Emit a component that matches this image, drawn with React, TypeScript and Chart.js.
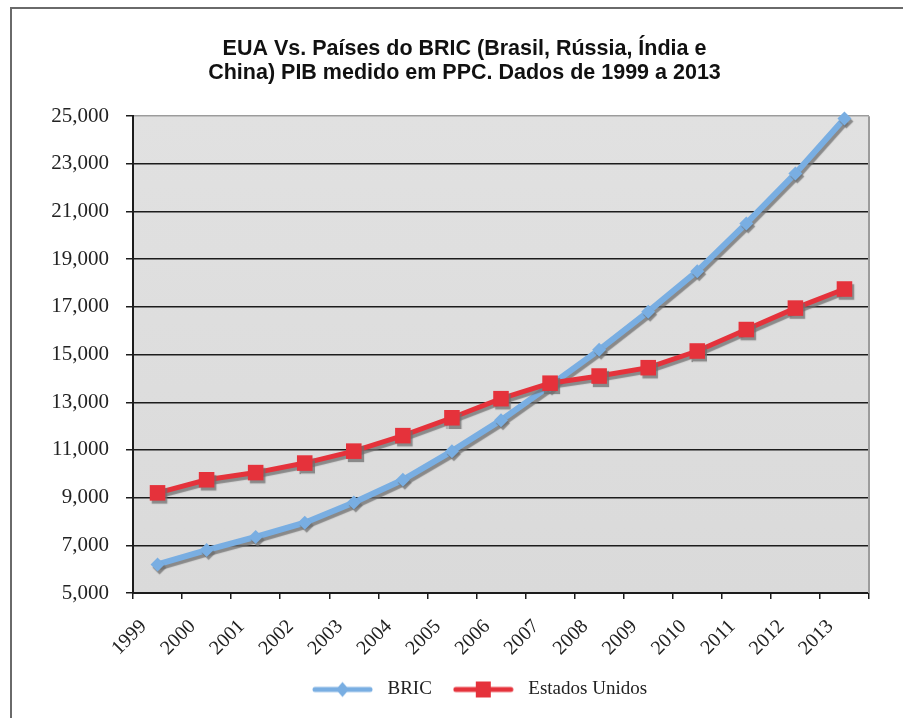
import { useEffect, useRef } from 'react';
import { Chart, registerables } from 'chart.js';

Chart.register(...registerables);

const years = ['1999', '2000', '2001', '2002', '2003', '2004', '2005', '2006', '2007', '2008', '2009', '2010', '2011', '2012', '2013'];
const bricValues = [6200, 6800, 7350, 7950, 8800, 9750, 10950, 12250, 13700, 15200, 16800, 18500, 20500, 22600, 24900];
const usaValues = [9200, 9750, 10050, 10450, 10950, 11600, 12350, 13150, 13800, 14100, 14450, 15150, 16050, 16950, 17750];
const seriesNames = ['BRIC', 'Estados Unidos'];
const titleLines = ['EUA Vs. Países do BRIC (Brasil, Rússia, Índia e', 'China) PIB medido em PPC. Dados de 1999 a 2013'];
const yMin = 5000;
const yMax = 25000;
const yStep = 2000;

const BLUE = '#79aee2';
const RED = '#e5323b';
const SERIF = "'Liberation Serif', 'Times New Roman', serif";
const SANS = "'Liberation Sans', Arial, sans-serif";

function legendIcon(color: string, kind: 'diamond' | 'square') {
  const c = document.createElement('canvas');
  c.width = 66;
  c.height = 20;
  const g = c.getContext('2d')!;
  g.strokeStyle = color;
  g.lineWidth = 5;
  g.lineCap = 'round';
  g.beginPath();
  g.moveTo(3, 10);
  g.lineTo(58, 10);
  g.stroke();
  g.fillStyle = color;
  if (kind === 'diamond') {
    g.beginPath();
    g.moveTo(30.5, 2.5);
    g.lineTo(37, 10);
    g.lineTo(30.5, 17.5);
    g.lineTo(24, 10);
    g.closePath();
    g.fill();
  } else {
    g.fillRect(23, 2, 15, 16);
  }
  return c;
}

const backdrop = {
  id: 'backdrop',
  beforeDraw(chart: any) {
    const { ctx, chartArea } = chart;
    const { left, top, right, bottom } = chartArea;
    const grad = ctx.createLinearGradient(0, top, 0, bottom);
    grad.addColorStop(0, '#e1e1e1');
    grad.addColorStop(1, '#dadada');
    ctx.save();
    ctx.fillStyle = grad;
    ctx.fillRect(left, top, right - left, bottom - top);
    ctx.restore();
  },
  beforeDatasetsDraw(chart: any) {
    const { ctx, chartArea } = chart;
    ctx.save();
    ctx.strokeStyle = '#9c9c9c';
    ctx.lineWidth = 2;
    ctx.beginPath();
    ctx.moveTo(chartArea.right, chartArea.top);
    ctx.lineTo(chartArea.right, chartArea.bottom);
    ctx.stroke();
    ctx.restore();
  },
};

const shadow = {
  id: 'shadow',
  beforeDatasetDraw(chart: any) {
    const ctx = chart.ctx;
    ctx.save();
    ctx.shadowColor = 'rgba(110,110,110,0.75)';
    ctx.shadowOffsetX = 2;
    ctx.shadowOffsetY = 3;
    ctx.shadowBlur = 1;
  },
  afterDatasetDraw(chart: any) {
    chart.ctx.restore();
  },
};

const boxShift = {
  id: 'boxShift',
  afterLayout(chart: any) {
    if (chart.legend) {
      chart.legend.left += 45;
      chart.legend.right += 45;
    }
    if (chart.titleBlock) {
      chart.titleBlock.left += 30;
      chart.titleBlock.right += 30;
    }
  },
};

export default function App() {
  const ref = useRef<HTMLCanvasElement>(null);

  useEffect(() => {
    if (!ref.current) return;
    const icons = [legendIcon(BLUE, 'diamond'), legendIcon(RED, 'square')];
    const chart = new Chart(ref.current, {
      type: 'line',
      data: {
        labels: years,
        datasets: [
          {
            label: seriesNames[0],
            data: bricValues,
            borderColor: BLUE,
            backgroundColor: BLUE,
            borderWidth: 6,
            pointStyle: 'rectRot',
            pointRadius: 7,
            pointBorderWidth: 0,
            tension: 0,
            clip: false,
            order: 2,
          },
          {
            label: seriesNames[1],
            data: usaValues,
            borderColor: RED,
            backgroundColor: RED,
            borderWidth: 5,
            pointStyle: 'rect',
            pointRadius: 11,
            pointBorderWidth: 0,
            tension: 0,
            clip: false,
            order: 1,
          },
        ],
      },
      options: {
        animation: false,
        responsive: true,
        maintainAspectRatio: false,
        events: [],
        layout: { padding: { left: 0, right: 34, top: 0, bottom: 9 } },
        scales: {
          x: {
            offset: true,
            afterFit: (s: any) => {
              s.height = 66;
            },
            grid: {
              drawOnChartArea: false,
              drawTicks: true,
              tickLength: 6,
              offset: true,
              color: '#1c1c1c',
              lineWidth: 1.5,
            },
            border: { color: '#1c1c1c', width: 2 },
            ticks: {
              minRotation: 45,
              maxRotation: 45,
              padding: 16,
              labelOffset: -14,
              autoSkip: false,
              color: '#222',
              font: { family: SERIF, size: 20 },
            },
          },
          y: {
            min: yMin,
            max: yMax,
            afterFit: (s: any) => {
              s.width = 133;
            },
            grid: {
              color: (c: any) => (c.tick && c.tick.value === yMax ? '#9c9c9c' : '#1c1c1c'),
              tickColor: '#1c1c1c',
              lineWidth: 1.5,
              tickLength: 7,
            },
            border: { color: '#1c1c1c', width: 2 },
            ticks: {
              stepSize: yStep,
              padding: 17,
              color: '#222',
              font: { family: SERIF, size: 21 },
              callback: (v: any) => Number(v).toLocaleString('en-US'),
            },
          },
        },
        plugins: {
          tooltip: { enabled: false },
          title: {
            display: true,
            text: titleLines,
            color: '#111',
            font: { family: SANS, size: 21.5, weight: 'bold', lineHeight: 1.12 },
            padding: { top: 37, bottom: 31 },
          },
          legend: {
            position: 'bottom',
            labels: {
              usePointStyle: true,
              pointStyleWidth: 66,
              padding: 21,
              color: '#222',
              font: { family: SERIF, size: 19 },
              sort: (a: any, b: any) => a.datasetIndex - b.datasetIndex,
              generateLabels: (ch: any) => {
                const items = Chart.defaults.plugins.legend.labels.generateLabels(ch);
                return items.map((it: any) => ({ ...it, pointStyle: icons[it.datasetIndex] }));
              },
            },
          },
        },
      },
      plugins: [backdrop, shadow, boxShift],
    } as any);
    return () => chart.destroy();
  }, []);

  return (
    <>
      <div
        style={{
          position: 'fixed',
          left: 10,
          top: 7,
          width: 893,
          height: 711,
          borderLeft: '2px solid #6a6a6a',
          borderTop: '2px solid #6a6a6a',
          boxSizing: 'border-box',
        }}
      />
      <div style={{ position: 'fixed', left: 0, top: 0, width: 903, height: 718 }}>
        <canvas ref={ref} />
      </div>
    </>
  );
}
